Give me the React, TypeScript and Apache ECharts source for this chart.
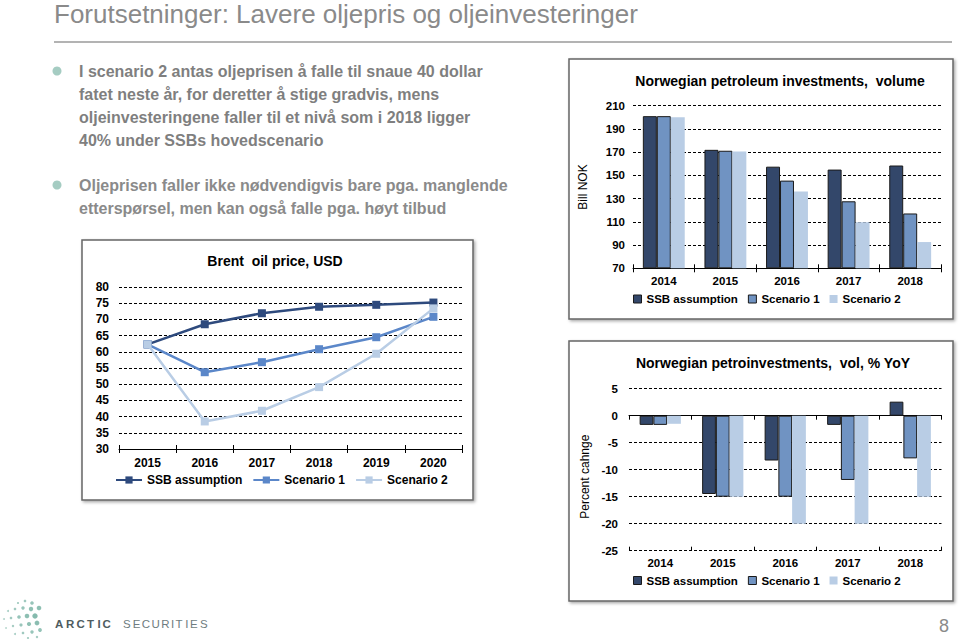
import React, { useEffect, useRef } from 'react';
import * as echarts from 'echarts';

// ---------- data ----------
const seriesNames = ['SSB assumption', 'Scenario 1', 'Scenario 2'];

const oilYears = ['2015', '2016', '2017', '2018', '2019', '2020'];
const oilSSB = [62.3, 68.5, 71.9, 73.9, 74.5, 75.2];
const oilScen1 = [62.3, 53.7, 56.8, 60.8, 64.5, 70.8];
const oilScen2 = [62.3, 38.5, 41.8, 49.1, 59.4, 73.4];

const invYears = ['2014', '2015', '2016', '2017', '2018'];
const invSSB = [201, 172, 157.5, 155, 158.5];
const invScen1 = [201, 171.2, 145.5, 127.7, 117.2];
const invScen2 = [200, 170.6, 136.2, 109.7, 92.6];
const invBase = 70;

const yoyYears = ['2014', '2015', '2016', '2017', '2018'];
const yoySSB = [-1.7, -14.5, -8.3, -1.7, 2.6];
const yoyScen1 = [-1.7, -15, -15, -11.9, -7.9];
const yoyScen2 = [-1.5, -15, -20, -20, -15];

const slideTitle = 'Forutsetninger: Lavere oljepris og oljeinvesteringer';
const bullet1 = [
  'I scenario 2 antas oljeprisen å falle til snaue 40 dollar',
  'fatet neste år, for deretter å stige gradvis, mens',
  'oljeinvesteringene faller til et nivå som i 2018 ligger',
  '40% under SSBs hovedscenario',
];
const bullet2 = [
  'Oljeprisen faller ikke nødvendigvis bare pga. manglende',
  'etterspørsel, men kan også falle pga. høyt tilbud',
];
const chartTitles = [
  'Brent  oil price, USD',
  'Norwegian petroleum investments,  volume',
  'Norwegian petroinvestments,  vol, % YoY',
];

// ---------- styles ----------
const FONT = '"Liberation Sans", Arial, Helvetica, sans-serif';
const lineColors = ['#2E4A7D', '#5B87C9', '#B9CDE5'];
const barColors = ['#33476A', '#7093C2', '#B9CDE5'];
const barBorders = [1, 1, 0];
const dashed = { show: true, lineStyle: { color: '#000', width: 1, type: [3, 2] as any } };

function txt(text: string, x: number, y: number, o: any = {}) {
  return {
    type: 'text',
    x,
    y,
    rotation: o.rotation || 0,
    z: 10,
    style: {
      text,
      fill: o.fill || '#000',
      fontSize: o.size || 12,
      fontWeight: o.weight || 'normal',
      fontFamily: FONT,
      align: o.align || 'left',
      verticalAlign: 'middle',
      textAlign: o.align || 'left',
      textVerticalAlign: 'middle',
    },
  };
}

function box(x: number, y: number, w: number, h: number) {
  return {
    type: 'rect',
    z: 0,
    shape: { x, y, width: w, height: h },
    style: {
      fill: '#fff',
      stroke: '#666',
      lineWidth: 1.5,
      shadowBlur: 3,
      shadowOffsetX: 1.5,
      shadowOffsetY: 1.5,
      shadowColor: 'rgba(0,0,0,0.35)',
    },
  };
}

const logoDots: number[][] = [
  [32, 603, 1.8], [25, 601, 1.3], [18, 603, 1.1], [39, 608, 2.3], [31, 609, 2.2], [23, 608, 1.7],
  [15, 609, 1.3], [8, 611, 1], [35, 616, 2.7], [27, 616, 2.3], [19, 617, 1.8], [11, 618, 1.3],
  [4, 619, 0.9], [37, 623, 2.4], [29, 624, 2.1], [21, 625, 1.6], [13, 626, 1.2], [40, 630, 1.9],
  [32, 632, 1.7], [23, 633, 1.3], [15, 634, 1], [28, 638, 1.1], [37, 637, 1.2], [6, 628, 0.8],
];
const arcticX = [55, 66, 76.5, 87, 97.5, 102.5];
const securX = [123, 132.8, 141.8, 151.5, 161.3, 171, 175.5, 185.3, 190, 200];

function buildOption(): any {
  const graphic: any[] = [];
  // boxes
  graphic.push(box(82, 240, 391, 260));
  graphic.push(box(569, 59, 384, 260));
  graphic.push(box(569, 341, 384, 260));
  // title + rule
  graphic.push(txt(slideTitle, 54, 13.5, { size: 26, fill: '#8a8a8a' }));
  graphic.push({
    type: 'line',
    shape: { x1: 54, y1: 42, x2: 952, y2: 42 },
    style: { stroke: '#9a9a9a', lineWidth: 1.5 },
  });
  // bullets
  graphic.push({ type: 'circle', shape: { cx: 57, cy: 71, r: 4.5 }, style: { fill: '#A5CCC2' } });
  graphic.push({ type: 'circle', shape: { cx: 57, cy: 185, r: 4.5 }, style: { fill: '#A5CCC2' } });
  bullet1.forEach((t, i) => graphic.push(txt(t, 79, 71 + i * 23, { size: 16, weight: 'bold', fill: '#7f7f7f' })));
  bullet2.forEach((t, i) => graphic.push(txt(t, 79, 185 + i * 23, { size: 16, weight: 'bold', fill: '#8a8a8a' })));
  // chart titles
  graphic.push(txt(chartTitles[0], 275, 261, { size: 14, weight: 'bold', align: 'center' }));
  graphic.push(txt(chartTitles[1], 780, 80.5, { size: 14, weight: 'bold', align: 'center' }));
  graphic.push(txt(chartTitles[2], 773, 362.5, { size: 14, weight: 'bold', align: 'center' }));
  // footer
  logoDots.forEach(([cx, cy, r]) =>
    graphic.push({ type: 'circle', shape: { cx, cy, r }, style: { fill: '#7FB7A9', opacity: 0.55 + r * 0.15 } })
  );
  'ARCTIC'.split('').forEach((c, i) =>
    graphic.push(txt(c, arcticX[i], 624, { size: 11.5, weight: 'bold', fill: '#4E5C60' }))
  );
  'SECURITIES'.split('').forEach((c, i) =>
    graphic.push(txt(c, securX[i], 624, { size: 11.5, fill: '#6E7C80' }))
  );
  graphic.push(txt('8', 944, 626, { size: 18, fill: '#8a8a8a', align: 'center' }));

  const catAxis = (gridIndex: number, data: string[], extra: any = {}) => ({
    type: 'category',
    gridIndex,
    data,
    position: 'bottom',
    boundaryGap: true,
    axisLine: { show: true, lineStyle: { color: '#000', width: 1 } },
    axisTick: { show: true, length: 4, lineStyle: { color: '#000' } },
    axisLabel: { show: true, color: '#000', fontFamily: FONT, fontWeight: 'bold', fontSize: 11.5, margin: 7 },
    splitLine: { show: false },
    ...extra,
  });
  const innerTickAxis = (gridIndex: number, data: string[], onZero = false) => ({
    type: 'category',
    gridIndex,
    data,
    position: 'bottom',
    axisLine: { show: false, onZero },
    axisTick: { show: true, inside: true, length: 4, lineStyle: { color: '#000' } },
    axisLabel: { show: false },
    splitLine: { show: false },
  });

  const valueAxis = (gridIndex: number, min: number, max: number, interval: number, extra: any = {}) => ({
    type: 'value',
    gridIndex,
    min,
    max,
    interval,
    axisLine: { show: false },
    axisTick: { show: false },
    axisLabel: { color: '#000', fontFamily: FONT, fontWeight: 'bold', fontSize: 12, margin: 10 },
    splitLine: dashed,
    ...extra,
  });

  const series: any[] = [];
  [oilSSB, oilScen1, oilScen2].forEach((d, i) =>
    series.push({
      type: 'line',
      name: seriesNames[i],
      xAxisIndex: 0,
      yAxisIndex: 0,
      data: d,
      symbol: 'rect',
      symbolSize: 8,
      itemStyle: { color: lineColors[i] },
      lineStyle: { color: lineColors[i], width: 2.5 },
      z: 3 + i,
    })
  );
  [invSSB, invScen1, invScen2].forEach((d, i) =>
    series.push({
      type: 'bar',
      name: seriesNames[i],
      xAxisIndex: 2,
      yAxisIndex: 1,
      data: d.map((v) => v - invBase),
      barGap: '0%',
      barCategoryGap: '32%',
      itemStyle: { color: barColors[i], borderColor: '#1a1a1a', borderWidth: barBorders[i] },
    })
  );
  [yoySSB, yoyScen1, yoyScen2].forEach((d, i) =>
    series.push({
      type: 'bar',
      name: seriesNames[i],
      xAxisIndex: 4,
      yAxisIndex: 2,
      data: d,
      barGap: '0%',
      barCategoryGap: '34%',
      itemStyle: { color: barColors[i], borderColor: '#1a1a1a', borderWidth: barBorders[i] },
    })
  );

  const barLegendData = seriesNames.map((n, i) => ({
    name: n,
    icon: 'rect',
    itemStyle: { color: barColors[i], borderColor: '#1a1a1a', borderWidth: barBorders[i] },
  }));
  const legendText = { color: '#000', fontFamily: FONT, fontWeight: 'bold', fontSize: 11.5 };

  return {
    animation: false,
    backgroundColor: '#fff',
    textStyle: { fontFamily: FONT },
    graphic,
    grid: [
      { left: 119, top: 287, width: 343, height: 162 },
      { left: 633, top: 105.7, width: 308, height: 162.6 },
      { left: 629, top: 388.7, width: 312.5, height: 162 },
    ],
    xAxis: [
      catAxis(0, oilYears, { axisLabel: { color: '#000', fontFamily: FONT, fontWeight: 'bold', fontSize: 12, margin: 8 } }),
      innerTickAxis(0, oilYears),
      catAxis(1, invYears),
      innerTickAxis(1, invYears),
      catAxis(2, yoyYears, { axisLine: { show: true, onZero: true, lineStyle: { color: '#000', width: 1 } }, axisLabel: { show: false } }),
      innerTickAxis(2, yoyYears, true),
      catAxis(2, yoyYears, { axisLine: { show: false, onZero: false }, axisTick: { show: false }, axisLabel: { show: true, color: '#000', fontFamily: FONT, fontWeight: 'bold', fontSize: 11.5, margin: 6 } }),
    ],
    yAxis: [
      valueAxis(0, 30, 80, 5),
      valueAxis(1, 0, 140, 20, {
        axisLabel: { color: '#000', fontFamily: FONT, fontWeight: 'bold', fontSize: 11.5, margin: 8, formatter: (v: number) => String(v + invBase) },
        name: 'Bill NOK',
        nameLocation: 'middle',
        nameGap: 44,
        nameTextStyle: { color: '#000', fontFamily: FONT, fontSize: 12 },
      }),
      valueAxis(2, -25, 5, 5, {
        axisLabel: { color: '#000', fontFamily: FONT, fontWeight: 'bold', fontSize: 11.5, margin: 11 },
        name: 'Percent cahnge',
        nameLocation: 'middle',
        nameGap: 38,
        nameTextStyle: { color: '#000', fontFamily: FONT, fontSize: 12, padding: [0, 14, 0, 0] },
      }),
    ],
    legend: [
      {
        data: seriesNames,
        left: 115,
        top: 474,
        itemWidth: 26,
        itemHeight: 9,
        itemGap: 10,
        selectedMode: false,
        padding: 0,
        textStyle: { ...legendText, fontSize: 12 },
      },
      {
        data: barLegendData,
        left: 633,
        top: 293,
        itemWidth: 8,
        itemHeight: 8,
        itemGap: 10,
        selectedMode: false,
        padding: 0,
        textStyle: legendText,
      },
      {
        data: barLegendData,
        left: 633,
        top: 574.5,
        itemWidth: 8,
        itemHeight: 8,
        itemGap: 10,
        selectedMode: false,
        padding: 0,
        textStyle: legendText,
      },
    ],
    series,
  };
}

export default function App() {
  const ref = useRef<HTMLDivElement>(null);
  useEffect(() => {
    if (!ref.current) return;
    const chart = echarts.init(ref.current, undefined, { renderer: 'svg' });
    chart.setOption(buildOption());
    return () => chart.dispose();
  }, []);
  return (
    <div
      ref={ref}
      style={{ position: 'absolute', left: 0, top: 0, width: 960, height: 639, background: '#fff' }}
    />
  );
}
